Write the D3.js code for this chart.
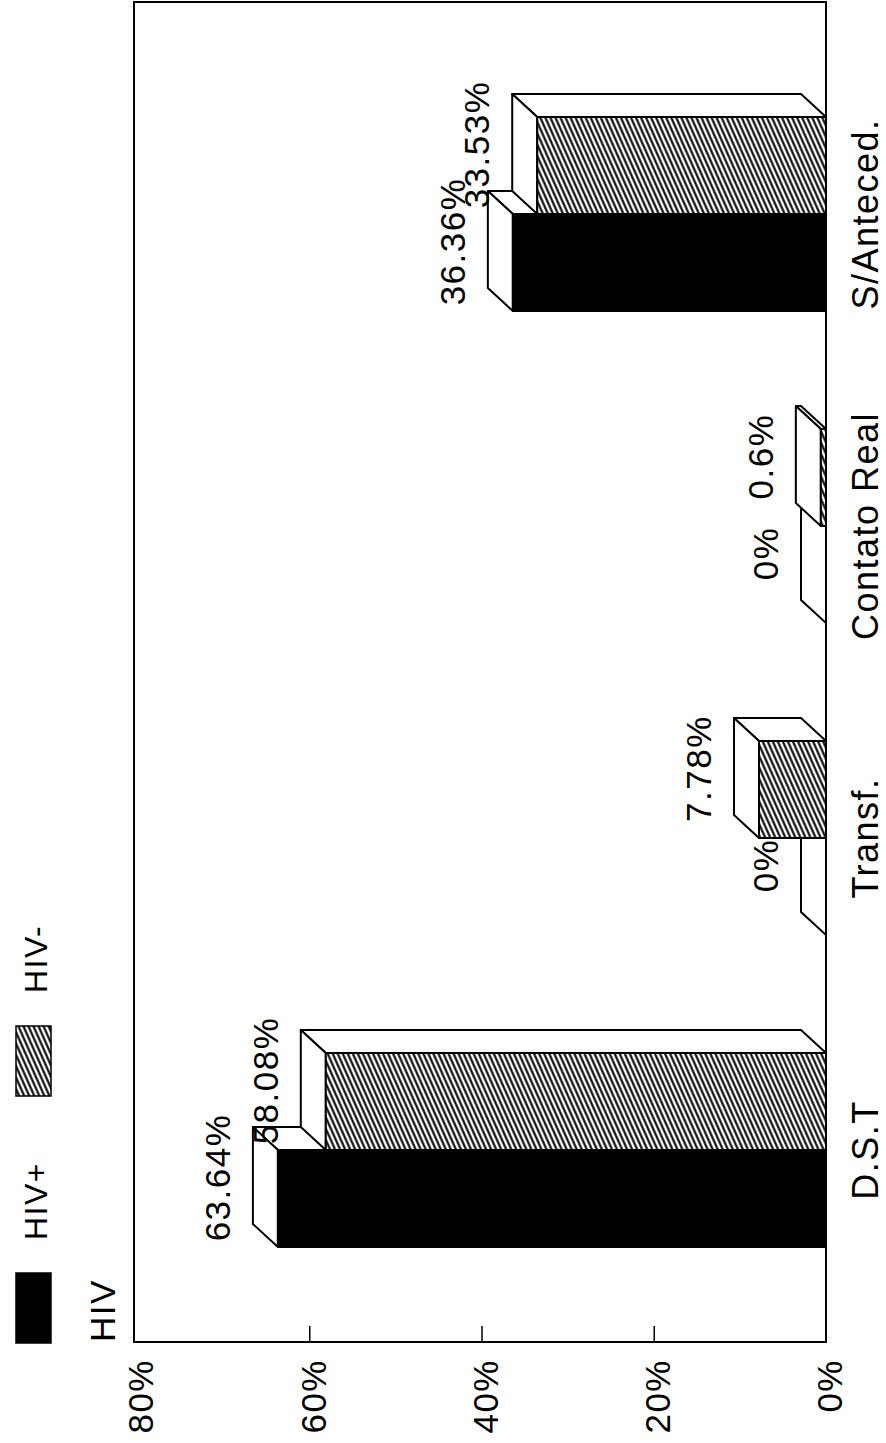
<!DOCTYPE html>
<html lang="pt">
<head>
<meta charset="UTF-8">
<title>HIV</title>
<script src="https://d3js.org/d3.v7.min.js"></script>
<style>
    body { margin: 0; background: #fff; }
    text { font-family: "Liberation Sans", Arial, sans-serif; fill: #000; letter-spacing: 1.5px; }
</style>
</head>
<body>
<div id="chart"></div>
<script>
    // data
    const categories = ['D.S.T', 'Transf.', 'Contato Real', 'S/Anteced.'];
    const hivPos = [63.64, 0, 0, 36.36];
    const hivNeg = [58.08, 7.78, 0.6, 33.53];
    const yTicks = [0, 20, 40, 60, 80];
    const seriesNames = ['HIV+', 'HIV-'];

    const W = 886, H = 1443;
    // the chart is drawn upright in a 1443 x 886 frame and then turned 90deg
    const frame = { left: 101, right: 1441, top: 134, bottom: 826 };
    const barW = 97;
    const depth = { dx: 23, dy: -25 };

    const svg = d3.select('#chart').append('svg')
        .attr('width', W)
        .attr('height', H);

    const defs = svg.append('defs');
    const pat = defs.append('pattern')
        .attr('id', 'hatch')
        .attr('patternUnits', 'userSpaceOnUse')
        .attr('width', 10)
        .attr('height', 4.6)
        .attr('patternTransform', 'rotate(-24)');
    pat.append('rect').attr('width', 10).attr('height', 4.6).attr('fill', '#fff');
    pat.append('line')
        .attr('x1', 0).attr('x2', 10)
        .attr('y1', 2.3).attr('y2', 2.3)
        .attr('stroke', '#000')
        .attr('stroke-width', 2.1);

    const g = svg.append('g')
        .attr('transform', `translate(0,${H}) rotate(-90)`);

    const x = d3.scaleBand()
        .domain(categories)
        .range([137, 1385])
        .padding(0);

    const y = d3.scaleLinear()
        .domain([0, 80])
        .range([frame.bottom, 137]);

    // frame
    g.append('rect')
        .attr('x', frame.left)
        .attr('y', frame.top)
        .attr('width', frame.right - frame.left)
        .attr('height', frame.bottom - frame.top)
        .attr('fill', 'none')
        .attr('stroke', '#000')
        .attr('stroke-width', 2);

    // value axis, ticks pointing inward
    const yAxis = g.append('g')
        .attr('transform', `translate(${frame.left},0)`)
        .call(d3.axisLeft(y).tickValues(yTicks).tickSize(-16).tickPadding(17).tickFormat(d => d + '%'));
    yAxis.select('.domain').remove();
    yAxis.selectAll('.tick line').attr('stroke', '#000').attr('stroke-width', 1.5)
        .filter(d => d === 0 || d === 80).remove();
    yAxis.selectAll('text')
        .attr('font-size', 35)
        .attr('dy', '0.45em')
        .attr('font-family', '"Liberation Sans", Arial, sans-serif');

    // category axis
    const xAxis = g.append('g')
        .attr('transform', `translate(0,${frame.bottom})`)
        .call(d3.axisBottom(x).tickSize(0).tickPadding(26));
    xAxis.select('.domain').remove();
    xAxis.selectAll('text')
        .attr('font-size', 36)
        .attr('font-family', '"Liberation Sans", Arial, sans-serif');

    // 3D bars
    function drawBar(x0, value, fill) {
        const top = y(value), base = y(0);
        const bar = g.append('g')
            .attr('stroke', '#000')
            .attr('stroke-width', 2)
            .attr('stroke-linejoin', 'round');
        // side face
        bar.append('path')
            .attr('fill', '#fff')
            .attr('d', `M${x0 + barW},${top}L${x0 + barW},${base}L${x0 + barW + depth.dx},${base + depth.dy}L${x0 + barW + depth.dx},${top + depth.dy}Z`);
        // top face
        bar.append('path')
            .attr('fill', '#fff')
            .attr('d', `M${x0},${top}L${x0 + barW},${top}L${x0 + barW + depth.dx},${top + depth.dy}L${x0 + depth.dx},${top + depth.dy}Z`);
        // front face
        bar.append('rect')
            .attr('x', x0)
            .attr('y', top)
            .attr('width', barW)
            .attr('height', base - top)
            .attr('fill', fill);
        // value label
        g.append('text')
            .attr('x', x0 + barW / 2 + 21)
            .attr('y', top + depth.dy - 23)
            .attr('text-anchor', 'middle')
            .attr('font-size', 35)
            .text(value + '%');
    }

    categories.forEach((c, i) => {
        const center = x(c) + x.bandwidth() / 2;
        drawBar(center - barW, hivPos[i], '#000');
        drawBar(center, hivNeg[i], 'url(#hatch)');
    });

    // legend
    const legend = g.append('g');
    const fills = ['#000', 'url(#hatch)'];
    const legendX = [100, 347];
    seriesNames.forEach((name, i) => {
        legend.append('rect')
            .attr('x', legendX[i])
            .attr('y', 16)
            .attr('width', 70)
            .attr('height', 35)
            .attr('fill', fills[i])
            .attr('stroke', '#000')
            .attr('stroke-width', 1.5);
        legend.append('text')
            .attr('x', legendX[i] + 103)
            .attr('y', 47)
            .attr('font-size', 32)
            .text(name);
    });
    legend.append('text')
        .attr('x', frame.left)
        .attr('y', 115)
        .attr('font-size', 35)
        .text('HIV');
</script>
</body>
</html>
